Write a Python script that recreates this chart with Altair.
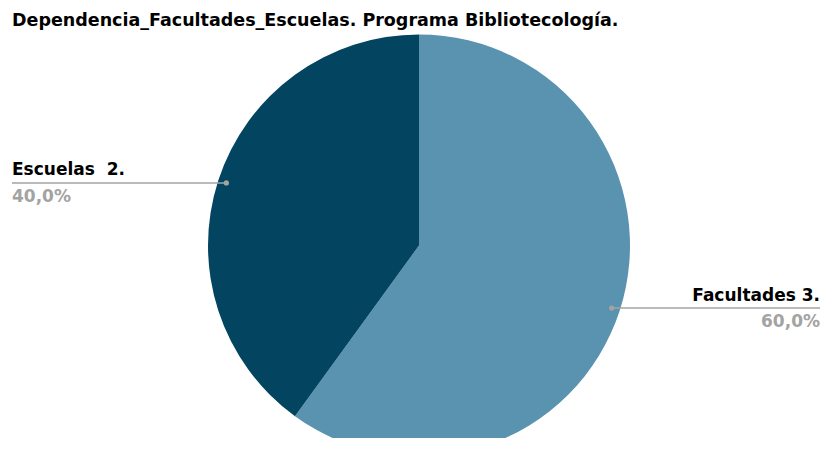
import math
import altair as alt
import pandas as pd

# ---- data ----
categorias = ["Facultades", "Escuelas"]
valores = [3, 2]
etiquetas = ["Facultades 3.", "Escuelas\u00a0 2."]
colores = ["#5a93b0", "#034561"]
titulo = "Dependencia_Facultades_Escuelas. Programa Bibliotecología."

# ---- layout ----
W, H = 802, 385
PAD_L, PAD_T = 10, 45
R = 211            # pie radius (px)
RD = R * 0.96      # radius of the label dots
EDGE_L, EDGE_R = -407, 401
GREY = "#a3a3a3"
FONT = "DejaVu Sans"

total = sum(valores)
rows = []
acum = 0
for i, (c, v, e) in enumerate(zip(categorias, valores, etiquetas)):
    mid = (acum + v / 2) / total * 2 * math.pi
    acum += v
    s, co = math.sin(mid), math.cos(mid)
    lado = "der" if s > 0 else "izq"
    rows.append(dict(
        categoria=c, valor=v, orden=i, etiqueta=e,
        pct=f"{v / total * 100:.1f}%".replace(".", ","),
        px=RD * s, py=RD * co,
        edge=EDGE_R if s > 0 else EDGE_L,
        lado=lado,
    ))
df = pd.DataFrame(rows)

xs = alt.Scale(domain=[-W / 2, W / 2], nice=False, zero=False)
ys = alt.Scale(domain=[-H / 2, H / 2], nice=False, zero=False)

base = alt.Chart(df)

pie = base.mark_arc(radius=R).encode(
    theta=alt.Theta("valor:Q", stack=True),
    color=alt.Color("categoria:N", scale=alt.Scale(domain=categorias, range=colores), legend=None),
    order=alt.Order("orden:Q"),
)

rule = base.mark_rule(color=GREY, strokeWidth=1.5).encode(
    x=alt.X("px:Q", scale=xs, axis=None),
    x2="edge:Q",
    y=alt.Y("py:Q", scale=ys, axis=None),
)

dot = base.mark_circle(size=28, color=GREY, opacity=1).encode(
    x=alt.X("px:Q", scale=xs, axis=None),
    y=alt.Y("py:Q", scale=ys, axis=None),
)

def textos(lado, align):
    sub = base.transform_filter(f"datum.lado == '{lado}'")
    enc = dict(x=alt.X("edge:Q", scale=xs, axis=None), y=alt.Y("py:Q", scale=ys, axis=None))
    nombre = sub.mark_text(align=align, baseline="alphabetic", dy=-7.5, font=FONT,
                           fontWeight="bold", fontSize=17, color="#000000").encode(text="etiqueta:N", **enc)
    pct = sub.mark_text(align=align, baseline="alphabetic", dy=19, font=FONT,
                        fontWeight="bold", fontSize=17, color=GREY).encode(text="pct:N", **enc)
    return [nombre, pct]

chart = alt.layer(pie, rule, dot, *textos("izq", "left"), *textos("der", "right")).properties(
    width=W,
    height=H,
    padding={"left": PAD_L, "top": PAD_T, "right": 0, "bottom": 0},
    autosize=alt.AutoSizeParams(type="none"),
    title=alt.TitleParams(
        text=titulo, anchor="start", frame="group", font=FONT, fontSize=17.5,
        fontWeight="bold", color="#000000", dx=-6, dy=22, offset=13, baseline="alphabetic",
    ),
).configure_view(stroke=None)

chart.save("out.html", embed_options={"renderer": "svg", "actions": False})
